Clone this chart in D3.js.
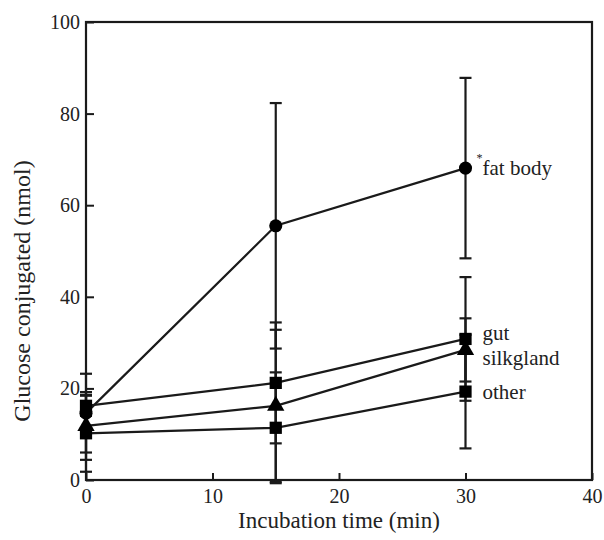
<!DOCTYPE html>
<html>
<head>
<meta charset="utf-8">
<script src="https://cdn.jsdelivr.net/npm/d3@7"></script>
<style>
  html, body { margin: 0; padding: 0; background: #fff; }
  svg text { font-family: "Liberation Serif", "Times New Roman", serif; fill: #222; }
</style>
</head>
<body>
<svg id="chart" width="604" height="540"></svg>
<script>
// Incubation time points (min)
const times = [0, 15, 30];

// Glucose conjugated (nmol) per tissue, mean and error
const fatBody      = [14.6, 55.5, 68.1];
const fatBodyErr   = [8.6, 26.8, 19.7];
const gut          = [16.2, 21.2, 30.8];
const gutErr       = [2.2, 13.2, 13.5];
const silkgland    = [11.8, 16.2, 28.4];
const silkglandErr = [7.4, 16.6, 6.9];
const other        = [10.2, 11.4, 19.3];
const otherErr     = [8.4, 12.1, 12.4];

const seriesNames = ["fat body", "gut", "silkgland", "other"];
const seriesMarks = ["circle", "square", "triangle", "square"];

const xTicks = [0, 10, 20, 30, 40];
const yTicks = [0, 20, 40, 60, 80, 100];

const series = [
  { name: seriesNames[0], mark: seriesMarks[0], v: fatBody, e: fatBodyErr },
  { name: seriesNames[1], mark: seriesMarks[1], v: gut, e: gutErr },
  { name: seriesNames[2], mark: seriesMarks[2], v: silkgland, e: silkglandErr },
  { name: seriesNames[3], mark: seriesMarks[3], v: other, e: otherErr }
];

const svg = d3.select("#chart");
const m = { left: 86, right: 592, top: 22, bottom: 480 };
const x = d3.scaleLinear().domain([0, 40]).range([m.left, m.right]);
const y = d3.scaleLinear().domain([0, 100]).range([m.bottom, m.top]);
const ink = "#1a1a1a";

// axes with inward ticks
const gx = svg.append("g").attr("transform", `translate(0,${m.bottom})`)
  .call(d3.axisBottom(x).tickValues(xTicks).tickFormat(d3.format("d"))
        .tickSizeInner(-7).tickSizeOuter(0).tickPadding(9));
const gy = svg.append("g").attr("transform", `translate(${m.left},0)`)
  .call(d3.axisLeft(y).tickValues(yTicks).tickFormat(d3.format("d"))
        .tickSizeInner(-8).tickSizeOuter(0).tickPadding(6));
[gx, gy].forEach(g => {
  g.select(".domain").remove();
  g.selectAll(".tick line").attr("stroke", ink).attr("stroke-width", 2);
  g.selectAll(".tick text").attr("font-size", 20)
    .attr("font-family", "Liberation Serif").attr("fill", "#222");
});

// plot frame
svg.append("rect")
  .attr("x", x(0)).attr("y", y(100))
  .attr("width", x(40) - x(0)).attr("height", y(0) - y(100))
  .attr("fill", "none").attr("stroke", ink).attr("stroke-width", 2.2);

// error bars
const capHalf = 6;
series.forEach(s => {
  const g = svg.append("g");
  times.forEach((t, i) => {
    const cx = x(t), hi = y(s.v[i] + s.e[i]), lo = y(s.v[i] - s.e[i]);
    g.append("line").attr("x1", cx).attr("x2", cx).attr("y1", hi).attr("y2", lo)
      .attr("stroke", ink).attr("stroke-width", 2.2);
    [hi, lo].forEach(yy => g.append("line")
      .attr("x1", cx - capHalf).attr("x2", cx + capHalf).attr("y1", yy).attr("y2", yy)
      .attr("stroke", ink).attr("stroke-width", 2.2));
  });
});

// connecting lines
const line = d3.line().x((d, i) => x(times[i])).y(d => y(d));
series.forEach(s => {
  svg.append("path").attr("d", line(s.v))
    .attr("fill", "none").attr("stroke", ink).attr("stroke-width", 2.2);
});

// markers
const symType = { circle: d3.symbolCircle, square: d3.symbolSquare, triangle: d3.symbolTriangle };
const symSize = { circle: 135, square: 150, triangle: 130 };
series.forEach(s => {
  svg.append("g").selectAll("path").data(s.v).join("path")
    .attr("transform", (d, i) => `translate(${x(times[i])},${y(d)})`)
    .attr("d", d3.symbol().type(symType[s.mark]).size(symSize[s.mark]))
    .attr("fill", "#000");
});

// series labels beside the 30 min points
const labelX = x(30) + 17;
const labelYs = [y(fatBody[2]), y(gut[2]) - 6, y(silkgland[2]) + 8, y(other[2])];
series.forEach((s, i) => {
  svg.append("text").attr("x", labelX).attr("y", labelYs[i])
    .attr("dy", "0.35em").attr("font-size", 21).text(s.name);
});
svg.append("text").attr("x", labelX - 6).attr("y", y(fatBody[2]) - 6)
  .attr("font-size", 12).attr("fill", "#777").text("*");

// axis titles
svg.append("text").attr("x", (m.left + m.right) / 2).attr("y", 528)
  .attr("text-anchor", "middle").attr("font-size", 23).text("Incubation time (min)");
svg.append("text")
  .attr("transform", `translate(30,${(m.top + m.bottom) / 2 + 40}) rotate(-90)`)
  .attr("text-anchor", "middle").attr("font-size", 24).text("Glucose conjugated (nmol)");
</script>
</body>
</html>
